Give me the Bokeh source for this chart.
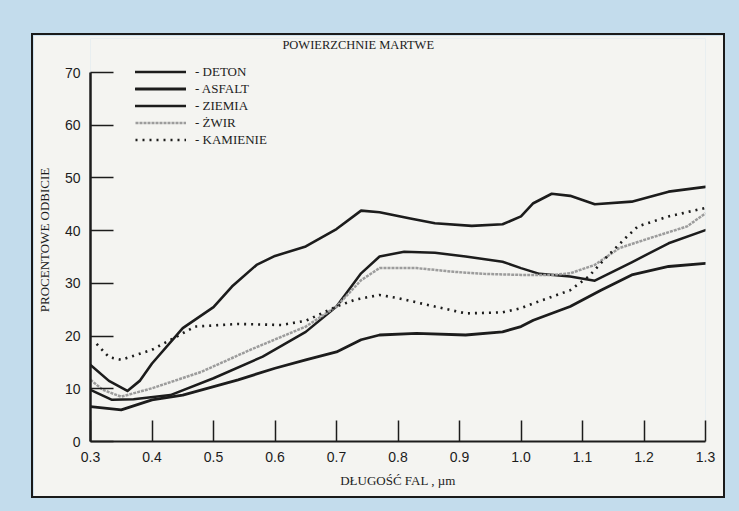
from bokeh.plotting import figure
from bokeh.models import (FixedTicker, Legend, LegendItem, Spacer, Range1d, Label)
from bokeh.layouts import column, row
from bokeh.embed import file_html
from bokeh.resources import INLINE

# ---- data ----
deton_x = [0.30, 0.33, 0.36, 0.38, 0.40, 0.45, 0.50, 0.53, 0.57, 0.60, 0.65, 0.70,
           0.74, 0.77, 0.82, 0.86, 0.92, 0.97, 1.00, 1.02, 1.05, 1.08, 1.12, 1.18, 1.24, 1.30]
deton_y = [14.5, 11.5, 9.6, 11.5, 14.8, 21.5, 25.5, 29.4, 33.5, 35.2, 37.0, 40.3,
           43.8, 43.5, 42.3, 41.4, 40.9, 41.2, 42.7, 45.2, 47.0, 46.6, 45.0, 45.5, 47.4, 48.3]

ziemia_x = [0.30, 0.335, 0.37, 0.43, 0.50, 0.58, 0.65, 0.70, 0.74, 0.77, 0.81, 0.86,
            0.91, 0.97, 1.00, 1.03, 1.08, 1.12, 1.18, 1.24, 1.30]
ziemia_y = [9.8, 7.9, 8.0, 8.8, 12.0, 16.1, 20.8, 25.6, 31.9, 35.1, 36.0, 35.8,
            35.1, 34.1, 32.9, 31.8, 31.3, 30.5, 34.0, 37.6, 40.1]

asfalt_x = [0.30, 0.35, 0.40, 0.45, 0.54, 0.60, 0.65, 0.70, 0.74, 0.77, 0.83, 0.91,
            0.97, 1.00, 1.02, 1.08, 1.13, 1.18, 1.24, 1.30]
asfalt_y = [6.6, 6.0, 7.9, 8.8, 11.7, 13.9, 15.5, 17.0, 19.3, 20.2, 20.5, 20.2,
            20.8, 21.8, 23.0, 25.6, 28.7, 31.6, 33.2, 33.8]

zwir_x = [0.30, 0.32, 0.35, 0.40, 0.48, 0.56, 0.65, 0.70, 0.74, 0.77, 0.83, 0.89,
          0.94, 1.00, 1.05, 1.08, 1.12, 1.16, 1.21, 1.27, 1.30]
zwir_y = [11.7, 9.8, 8.5, 10.1, 13.2, 17.4, 21.8, 25.6, 30.6, 32.9, 32.9, 32.2,
          31.8, 31.6, 31.6, 31.9, 33.5, 36.7, 38.6, 40.8, 43.3]

kamienie_x = [0.31, 0.33, 0.35, 0.40, 0.44, 0.47, 0.54, 0.61, 0.65, 0.70, 0.73, 0.77,
              0.80, 0.86, 0.91, 0.97, 1.00, 1.02, 1.08, 1.11, 1.14, 1.17, 1.19, 1.24, 1.30]
kamienie_y = [18.5, 16.0, 15.5, 17.4, 19.9, 21.8, 22.3, 22.1, 22.9, 25.6, 26.9, 27.8,
              27.2, 25.6, 24.3, 24.5, 25.3, 26.2, 28.7, 31.3, 35.1, 38.6, 40.8, 42.7, 44.3]

x_ticks = [0.3, 0.4, 0.5, 0.6, 0.7, 0.8, 0.9, 1.0, 1.1, 1.2, 1.3]
x_tick_labels = ["0.3", "0.4", "0.5", "0.6", "0.7", "0.8", "0.9", "1.0", "1.1", "1.2", "1.3"]
y_ticks = [0, 10, 20, 30, 40, 50, 60, 70]

legend_labels = ["- DETON", "- ASFALT", "- ZIEMIA", "- ŻWIR", "- KAMIENIE"]
title_text = "POWIERZCHNIE MARTWE"
x_label = "DŁUGOŚĆ FAL , µm"
y_label = "PROCENTOWE ODBICIE"

PANEL = "#f4f4f1"
BLUE = "#c3dcec"
INK = "#1c1c1c"
SERIF = "Liberation Serif"
SANS = "Liberation Sans"

p = figure(width=690, height=461, output_backend="svg", toolbar_location=None,
           x_range=Range1d(0.3, 1.3), y_range=Range1d(0, 76.45),
           min_border_left=57, min_border_right=18, min_border_top=3, min_border_bottom=55,
           background_fill_color=PANEL, border_fill_color=PANEL)
p.outline_line_color = None
p.grid.visible = False

# chart title placed inside the panel, above the top of the y axis
p.add_layout(Label(x=0.612, y=75.2, text=title_text, text_font=SERIF,
                   text_font_size="12.5px", text_color=INK, text_baseline="middle",
                   text_align="left"))

for ax in (p.xaxis[0], p.yaxis[0]):
    ax.axis_line_color = INK
    ax.major_tick_line_color = INK
    ax.major_tick_line_width = 1.5
    ax.minor_tick_line_color = None
    ax.major_tick_out = 0
    ax.major_label_text_font = SANS
    ax.major_label_text_font_size = "14px"
    ax.major_label_text_color = INK
    ax.axis_label_text_font = SERIF
    ax.axis_label_text_font_style = "normal"
    ax.axis_label_text_font_size = "13px"
    ax.axis_label_text_color = INK

p.xaxis.ticker = FixedTicker(ticks=x_ticks)
p.xaxis.major_label_overrides = {t: l for t, l in zip(x_ticks, x_tick_labels)}
p.xaxis.major_tick_in = 21
p.xaxis.axis_line_width = 2
p.xaxis.major_label_standoff = 10
p.xaxis.axis_label = x_label
p.xaxis.axis_label_standoff = 8

p.yaxis.ticker = FixedTicker(ticks=y_ticks)
p.yaxis.bounds = (0, 70)
p.yaxis.major_tick_in = 23
p.yaxis.axis_line_width = 2.5
p.yaxis.major_label_standoff = 10
p.yaxis.axis_label = y_label
p.yaxis.axis_label_standoff = 10

common = dict(line_join="round", line_cap="round")
r_deton = p.line(deton_x, deton_y, line_color=INK, line_width=2.6, **common)
r_asfalt = p.line(asfalt_x, asfalt_y, line_color=INK, line_width=2.8, **common)
r_ziemia = p.line(ziemia_x, ziemia_y, line_color=INK, line_width=2.5, **common)
r_zwir = p.line(zwir_x, zwir_y, line_color="#9c9c9c", line_width=2.5, line_dash="3 1",
                line_join="round")
r_kam = p.line(kamienie_x, kamienie_y, line_color=INK, line_width=2.6, line_dash="2 5")

legend = Legend(items=[LegendItem(label=l, renderers=[r]) for l, r in
                       zip(legend_labels, [r_deton, r_asfalt, r_ziemia, r_zwir, r_kam])],
                location=(45, 293), glyph_width=51, glyph_height=17, label_height=17,
                spacing=0, padding=0, margin=0, label_standoff=9,
                label_text_font=SERIF, label_text_font_size="13px", label_text_color=INK,
                background_fill_alpha=0, border_line_alpha=0)
p.add_layout(legend, "center")

p.styles = {"outline": "2px solid #1a1a1a"}

layout = column(Spacer(width=739, height=35),
                row(Spacer(width=33, height=461), p, Spacer(width=16, height=461)),
                Spacer(width=739, height=15),
                styles={"background-color": BLUE})

open("out.html", "w").write(file_html(layout, INLINE))
